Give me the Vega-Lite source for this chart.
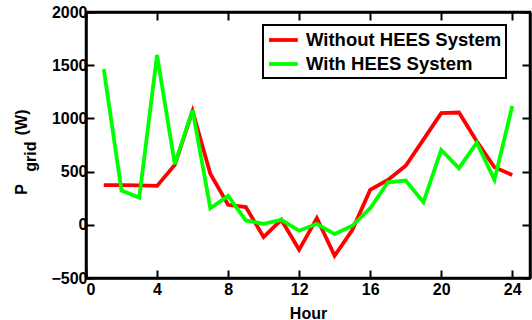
{
  "$schema": "https://vega.github.io/schema/vega-lite/v6.json",
  "width": 444,
  "height": 266,
  "autosize": {"type": "none"},
  "padding": {"left": 86, "top": 12, "right": 2, "bottom": 42},
  "background": "white",
  "config": {
    "font": "Liberation Sans",
    "view": {"stroke": "black", "strokeWidth": 2.5},
    "axis": {
      "grid": false,
      "domainColor": "black",
      "domainWidth": 2.5,
      "tickColor": "black",
      "tickWidth": 2,
      "tickSize": -8,
      "format": "d",
      "labelFont": "Liberation Sans",
      "labelFontWeight": "bold",
      "labelFontSize": 16,
      "labelColor": "black",
      "titleFont": "Liberation Sans",
      "titleFontWeight": "bold",
      "titleFontSize": 16,
      "titleColor": "black"
    }
  },
  "data": {
    "values": [
      {"hour": 1, "P": 372, "series": "Without HEES System"},
      {"hour": 2, "P": 372, "series": "Without HEES System"},
      {"hour": 3, "P": 370, "series": "Without HEES System"},
      {"hour": 4, "P": 366, "series": "Without HEES System"},
      {"hour": 5, "P": 563, "series": "Without HEES System"},
      {"hour": 6, "P": 1070, "series": "Without HEES System"},
      {"hour": 7, "P": 480, "series": "Without HEES System"},
      {"hour": 8, "P": 188, "series": "Without HEES System"},
      {"hour": 9, "P": 166, "series": "Without HEES System"},
      {"hour": 10, "P": -115, "series": "Without HEES System"},
      {"hour": 11, "P": 47, "series": "Without HEES System"},
      {"hour": 12, "P": -235, "series": "Without HEES System"},
      {"hour": 13, "P": 63, "series": "Without HEES System"},
      {"hour": 14, "P": -291, "series": "Without HEES System"},
      {"hour": 15, "P": -47, "series": "Without HEES System"},
      {"hour": 16, "P": 328, "series": "Without HEES System"},
      {"hour": 17, "P": 422, "series": "Without HEES System"},
      {"hour": 18, "P": 555, "series": "Without HEES System"},
      {"hour": 19, "P": 800, "series": "Without HEES System"},
      {"hour": 20, "P": 1050, "series": "Without HEES System"},
      {"hour": 21, "P": 1055, "series": "Without HEES System"},
      {"hour": 22, "P": 785, "series": "Without HEES System"},
      {"hour": 23, "P": 540, "series": "Without HEES System"},
      {"hour": 24, "P": 469, "series": "Without HEES System"},
      {"hour": 1, "P": 1463, "series": "With HEES System"},
      {"hour": 2, "P": 322, "series": "With HEES System"},
      {"hour": 3, "P": 256, "series": "With HEES System"},
      {"hour": 4, "P": 1595, "series": "With HEES System"},
      {"hour": 5, "P": 569, "series": "With HEES System"},
      {"hour": 6, "P": 1079, "series": "With HEES System"},
      {"hour": 7, "P": 156, "series": "With HEES System"},
      {"hour": 8, "P": 272, "series": "With HEES System"},
      {"hour": 9, "P": 41, "series": "With HEES System"},
      {"hour": 10, "P": 9, "series": "With HEES System"},
      {"hour": 11, "P": 47, "series": "With HEES System"},
      {"hour": 12, "P": -56, "series": "With HEES System"},
      {"hour": 13, "P": 9, "series": "With HEES System"},
      {"hour": 14, "P": -87, "series": "With HEES System"},
      {"hour": 15, "P": -9, "series": "With HEES System"},
      {"hour": 16, "P": 156, "series": "With HEES System"},
      {"hour": 17, "P": 400, "series": "With HEES System"},
      {"hour": 18, "P": 416, "series": "With HEES System"},
      {"hour": 19, "P": 213, "series": "With HEES System"},
      {"hour": 20, "P": 703, "series": "With HEES System"},
      {"hour": 21, "P": 532, "series": "With HEES System"},
      {"hour": 22, "P": 772, "series": "With HEES System"},
      {"hour": 23, "P": 422, "series": "With HEES System"},
      {"hour": 24, "P": 1116, "series": "With HEES System"}
    ]
  },
  "layer": [
    {
      "mark": {"type": "line", "strokeWidth": 3.8, "clip": true},
      "encoding": {
        "x": {
          "field": "hour", "type": "quantitative",
          "scale": {"domain": [0, 25], "nice": false},
          "axis": {"values": [0, 4, 8, 12, 16, 20, 24], "title": "Hour", "labelPadding": 11, "titlePadding": 8}
        },
        "y": {
          "field": "P", "type": "quantitative",
          "scale": {"domain": [-500, 2000], "nice": false},
          "axis": {
            "values": [-500, 0, 500, 1000, 1500, 2000],
            "title": ["P\u2002\u2002\u2002\u2002\u2002\u00a0\u00a0(W)\u00a0\u00a0\u00a0\u200b", "grid\u00a0\u00a0\u00a0\u00a0\u00a0\u200b"],
            "titleLineHeight": 9,
            "labelPadding": 7,
            "titlePadding": 12
          }
        },
        "color": {
          "field": "series", "type": "nominal",
          "scale": {"domain": ["Without HEES System", "With HEES System"], "range": ["#ff0000", "#00ff00"]},
          "legend": {
            "title": null,
            "orient": "none",
            "legendX": 177,
            "legendY": 13,
            "symbolType": "M-1,0H2.2",
            "symbolSize": 324,
            "symbolStrokeWidth": 3.8,
            "labelFont": "Liberation Sans",
            "labelFontWeight": "bold",
            "labelFontSize": 18.5,
            "labelColor": "black",
            "labelOffset": 17,
            "labelLimit": 400,
            "rowPadding": 3,
            "padding": 4,
            "strokeColor": "black",
            "fillColor": "white",
            "encode": {"legend": {"update": {"strokeWidth": {"value": 2}}}}
          }
        }
      }
    },
    {
      "mark": {"type": "line", "opacity": 0},
      "encoding": {
        "x": {"field": "hour", "type": "quantitative", "scale": {"domain": [0, 25], "nice": false},
              "axis": {"orient": "top", "values": [0, 4, 8, 12, 16, 20, 24], "labels": false, "title": null}},
        "y": {"field": "P", "type": "quantitative", "scale": {"domain": [-500, 2000], "nice": false},
              "axis": {"orient": "right", "values": [-500, 0, 500, 1000, 1500, 2000], "labels": false, "title": null}}
      }
    }
  ],
  "resolve": {"axis": {"x": "independent", "y": "independent"}}
}
